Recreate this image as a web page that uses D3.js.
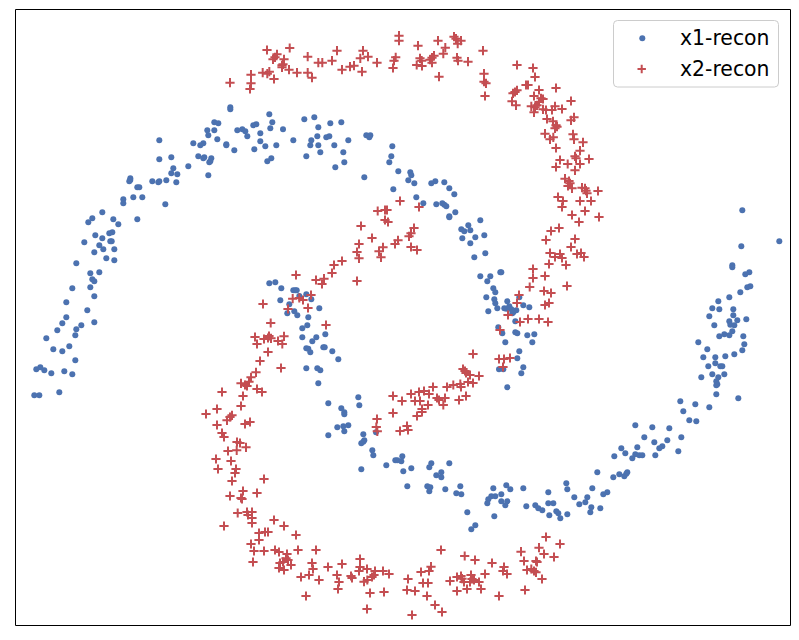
<!DOCTYPE html>
<html>
<head>
<meta charset="utf-8">
<script src="https://cdn.jsdelivr.net/npm/d3@7"></script>
<style>
html,body{margin:0;padding:0;background:#fff;}
svg{display:block;}
text{font-family:"DejaVu Sans";}
</style>
</head>
<body>
<script>
const seriesNames = ["x1-recon", "x2-recon"];
const seriesColors = ["#4C72B0", "#C44E52"];
const xDomain = [15.5, 790.5];
const yDomain = [9.5, 625.5];

const x1Recon = [
[230.3,107.3],[230.3,109.3],[269.3,114.3],[272.3,122.3],[214.3,122.3],[218.3,123.3],[256.3,124.3],[253.3,125.3],[270.3,128.3],[283,129.3],[207.3,130.3],[214.3,130.3],[237.3,130.3],[242.3,129.3],[245.3,131.3],[260.3,133.3],[208.3,135.3],[247.3,136.3],[159.3,140.3],[217.3,139.3],[260.3,141.3],[193.3,143.3],[203.3,143.3],[200.3,145.3],[226.3,144.3],[226.3,145.3],[265.3,146.3],[276.3,145.3],[254.3,149.3],[234.3,150.3],
[198.3,156.3],[204.3,157.3],[203.3,158.3],[211.3,158.3],[171.3,157.3],[159.3,159.3],[271.3,158.3],[267.3,161.3],[210.3,161.3],[209.3,162.3],[188.3,166.3],[173.3,168.3],[171.3,173.3],[177.3,174.3],[208.3,175.3],
[130.3,178.3],[130.3,180],[129.3,181.3],[152.3,181.3],[159.3,181.3],[158.3,182.3],[166.3,180.3],[176.3,182.3],[137.3,187.3],[139.3,187.3],[123.3,199.3],[133.3,197.3],[142.3,197.3],[123.3,203.3],[165.3,204.3],[102.3,212.3],[92.3,218.3],[88.3,222.3],[113.3,219.3],[118.3,224.3],[137.3,219.3],[112.3,232.3],[109.3,233.3],[95.3,235.3],[102.3,238.3],[110.3,241.3],[111.7,241.3],[84.3,242.3],[99.3,245.3],[103.3,249.3],[114.3,249.3],[94.3,252.3],[106.3,258.3],[114.3,260.3],[76.3,263.3],[90.3,273.3],[99.3,272.3],[92.3,279.3],[94.3,281.3],[90.3,287.3],[72.3,288.3],[94.3,296.3],[66.3,302.3],[87.3,310.3],[66.3,317.3],[62.3,323.3],[94.3,322.3],[81.3,325.3],[57.3,330.3],[76.3,329.3],[75.3,335.3],[46.3,338.3],[53.3,349.3],[62.3,351.3],[69.3,346.3],[75.3,360.3],[36.3,369.3],[40.3,367.3],[44.3,370.3],[51.3,373.3],[64.3,371.3],[72.3,374.3],[34.3,395.3],[39.3,395.3],[59.3,392.3],
[304.3,119.3],[314.3,117.3],[318.3,127.3],[330.3,123.3],[341.3,122.3],[293.3,140.3],[311.3,140.3],[317.3,136.3],[326.3,137.3],[329.3,136.3],[348.3,140.3],[310.3,145.3],[318.3,145.3],[334.3,145.3],[320.3,152.3],[343.3,152.3],[306.3,156.3],[344.3,162.3],[335.3,167.3],[366.3,135.3],[370.3,135.3],[369.3,137.3],[392.3,146.3],[391.3,156.3],[389.3,162.3],[398.3,171.3],[410.3,172.3],[411.3,175.3],[408.3,180.3],[414.3,183.3],[364.3,177.3],[431.3,183.3],[435.3,181.3],[444.3,182.3],[449.3,188.3],[454.3,194.3],[393.3,189.3],[416.3,197.3],
[423.3,203.3],[436.3,204.3],[442.3,203.3],[444.3,204.7],[446.3,206.3],[455.3,212.3],[449.3,216.3],[449.3,217.3],[480.3,220.3],[468.3,225.3],[461.3,229.3],[464.3,231.3],[470.3,230.3],[484.3,235.3],[475.3,237.3],[462.3,238.3],[470.3,243.3],[485.3,253.3],[474.3,257.3],
[480.3,276.3],[490.3,276.3],[487.3,281.3],[500.3,272.3],[493.3,288.3],[495.3,292.3],[486.3,297.3],[494.3,299.3],[495.3,303.3],[497.3,308.3],[488.3,311.3],[498.3,327.3],[499,369.3],
[269.3,283.3],[275.3,282.3],[281.3,288.3],[293.3,290.3],[295.3,290.3],[296.7,290.3],[306.3,294.3],[299.3,296],[311.3,299.3],[280.3,300.3],[289.3,304.3],[319.3,308.3],[294.3,311.3],[287.3,313.3],[297.3,315.3],[308.3,317.3],[307.3,325.3],[302.3,328.3],[325.3,334.3],[302.3,337.3],[316.3,337.3],[312.3,341.3],[306.3,348.3],[308.3,348.7],[323.3,347.3],[324.7,347.3],[310.3,352.3],[332.3,351.3],[338.3,359.3],[306.3,368.3],[317.3,368.3],[320.3,370.3],[318.3,383.3],[328.3,403.3],[358.3,397.3],[359.3,405.3],[341.3,408.3],[344.3,412.3],[344.3,414.3],[337.3,427.3],[343.3,426.3],[348.3,425.3],[344.3,431.3],[328.3,435.3],[363.3,434.3],[376,432.3],[364.3,440.3],[363.3,441.7],[361.3,443.3],[372.3,450.3],
[373.3,455.3],[402.3,456.3],[395.3,460.3],[397.3,460.3],[401.3,461.3],[386.3,465.3],[361.3,469.3],[403.3,471.3],[411.3,468.3],[431.3,463.3],[429.3,467.3],[449.3,463.3],[436.3,475.3],[441.3,472.3],[441.3,477.3],[407.3,486.3],[427.3,486.3],[430.3,487.3],[429.3,491.3],[445.3,489.3],[460.3,486.3],[456.3,493.3],[461.3,494.3],[467.3,512.3],[475.3,525.3],[471.3,529.3],
[493.3,488.3],[506.3,485.3],[510.3,489.3],[501.3,494.3],[495.3,496.3],[491.3,496.3],[488.3,499.3],[487.3,503.3],[501.3,501.3],[507.3,501.3],[505.3,505.3],[494.3,516.3],[523.3,488.3],[526.3,506.3],[535.3,505.3],[538.3,508.3],[542.3,510.3],[548.3,492.3],[548.3,503.3],[553.3,503.3],[549.3,515.3],[556.3,511.3],[558.3,513.3],[560.3,518.3],[567.3,514.3],[566.3,483.3],[567.3,489.3],[574.3,497.3],[579.3,504.3],
[501.3,272.3],[507.3,301.3],[519.3,297.3],[504.3,308.3],[506.3,308.7],[509.3,306.3],[511.3,309.3],[516.3,310.3],[513.3,312.3],[512.3,313.3],[523.3,305.3],[529.3,307.3],[515.3,321.3],[502.3,333.3],[515.3,332.3],[517.3,333.3],[527.3,335.3],[534.3,334.3],[505.3,342.3],[532.3,342.3],[519.3,351.3],[517.3,358.3],[523.3,367.3],[503.3,369.3],[521.3,373.3],[507.3,387.3],
[742.3,210.3],[779.3,241.3],[741.3,246.3],[732.3,265.3],[732.3,267.3],[749.3,272.3],[745.3,274.3],[750.3,286.3],[747.3,287.3],[740.3,292.3],[729.3,297.3],[718.3,301.3],[712.3,308.3],[719.3,309.3],[733.3,309.3],[733.3,315.3],[709.3,316.3],[737.3,320.3],[746.3,319.3],[729.3,321.3],[730.3,324.7],[734.3,325.3],[714.3,325.3],[732.3,331.3],[724.3,334.3],[719.3,336.3],[729.3,335.3],[743.3,336.3],[698.3,342.3],[744.3,344.3],[707.3,349.3],[742.3,350.3],[734.3,354.3],[725.3,356.3],[715.3,357.3],[703.3,357.3],[715.3,363.3],[720.3,366.3],[722.3,366.3],[708.3,366.3],[724.3,374.3],[712.3,374.3],[701.3,377.3],[718.3,377.3],[716.3,381.3],[717.3,384.3],[716.3,385.3],[716.3,394.3],[738.3,398.3],[680.3,401.3],[695.3,404.3],[709.3,407.3],[683.3,411.3],[689.3,420.3],[696.3,421.3],[635.3,425.3],[652.3,427.3],[669.3,428.3],[644.3,437.3],[681.3,437.3],[667.3,440.3],[654.3,442.3],[662.3,446.3],[659.3,448.3],[637.3,447.3],[621.3,448.3],[678.3,451.3],[625.3,453.3],[635.3,454.3],[639.3,455.3],[642.3,455.3],[655.3,455.3],[614.3,456.3],[632.3,458.3],[597.3,472.3],[627.3,472.3],[626.3,473.7],[624.3,476.3],[619.3,474.3],[613.3,477.3],[592.3,488.3],[607.3,492.3],[603.3,494.3],[587.3,497.3],[585.3,502.3],[591.3,507.3],[600.3,508.3],[590.3,512.3]
];

const x2Recon = [
[230,82.7],[250,89],[251,83.3],[251,74.7],[262.7,72.7],[267.3,73.7],[269.3,71.7],[274,79],[267,50],[289.7,48],[277,54.3],[275,57.3],[273,59.3],[284,59.3],[282,65.3],[283,64.3],[282,67.3],[289,69.7],[297,72.7],[307.7,56.7],[307.7,72.7],[312,77.7],[318.3,62.7],[322.3,62.7],[332,60.7],[337,50.7],[342,69.7],[350,66.7],[354,65.7],[363,50.7],[360.3,58.3],[368,56.7],[362,71.7],[377,62.7],[399,35.7],[399,40.7],[395.7,57.3],[394,60.7],[393,68],[418,45.7],[420,58.3],[421.7,60.7],[416.7,65],[422,66],[438,40.7],[445.3,47.7],[443.3,53.7],[434,55.7],[432,57.7],[430,59.7],[432,62.7],[439,76.7],[454,36.7],[456,38.7],[461,40.7],[457.7,43.7],[457,57.7],[458,60.7],[468,61.7],[483,50.7],[484,73.7],[484,81.7],[486,83.3],[485,96],
[517,65],[533,68],[535,77],[526,85],[528,85],[539,90],[556,88],[517,90.3],[515,92],[513,93.3],[512,101.3],[516,105.3],[534,96],[543,99],[541,98.3],[539,102],[571,101],[531.3,106.3],[535,107.3],[537,105.3],[534,112.3],[543,109.3],[546,110],[552,110],[555,106.3],[562,109],[574,117.3],[571,120.3],[547,119],[553,121.3],[556,125.3],[557,126.7],[555,128.3],[545,133.7],[553.3,137.3],[550,139.3],[573,134.3],[574,139.3],[583,142.3],[556,148],[580,150.7],[575,156.3],[576,158.3],[589,159],[560,160],[567.7,164],[580,164],[556,167],[575,170.3],[565,178.7],[569,181],[570,183.3],[568,186],[572,188.3],[582,187.7],[585,188.3],[586,190.7],[587,193.3],[598,191],[558,197],[563,201],[580,201],[591,201],[562,207],[585,211],[572,215],[599,217],[579,222],[559,228],[551,231],[575,239],[546,240],[571,247],[550,253],[560,254],[555,257],[562,258],[577,254],[581,253],[584,257],
[549,264],[566,265],[533,269],[533,278],[545,276],[529.7,287],[544,291],[551,293],[567,286],[519,295],[517,303],[545,305],[549,303],[508,315],[528,319],[520,322],[539,319],[548,322],[500,330],[499,359],[504,359],[510,358],[503,367],
[400,201],[419,207],[377.7,211],[385,210],[387,210],[385,220],[388,222],[361,226],[414,228],[411,233.3],[409,236.3],[372,238],[359,244],[398,240.3],[395,244],[411,247],[417,250],[383,247.3],[379,251.3],[357,252],[381,257.3],[359,258.3],[342,261],[334,265],[332,273],[357,281],[296,275],[316,280],[324,278.7],[322,284],[311,295],[292.7,298.7],[299.3,298],[303,300],[263,304],[288,309],[308,308],[326,325],[270.7,323],[255,337],[269,336],[268,338],[264,339],[271,338.3],[284,336.3],[278,341],[257,344],[282.3,344],[268,352],[260,361],[281,368],[256,372.3],[251,377.3],[249,381.7],[241,383.3],[245,385],[247,386],[257,389],[262,392],[222,392],[243,396],[241,406],[217,409],[206,414],[232,415.3],[230,417],[227,420.3],[217,425],[245,424],[250,422],[222,433],[224,437],[237,442],[240,443],[246,447.3],[228,451],
[473,354],[463,369],[465,371],[466,373],[470,375],[479,376],[473,383],[468,382],[460.3,384],[453.3,385],[461,387],[447,387],[433,387],[419,392],[424,391],[429,394],[411,394],[393,396],[402,401],[415,401],[420,401],[437,398],[439,400],[445,398],[459,400],[466,396],[428,405],[443.3,405],[422,409],[422,412],[417,416],[393,413],[377,419],[376.3,427],[377.3,431.3],[407,426],[400,431],[408,430],
[236.7,450.3],[216,459],[231,461],[218,469],[236,469],[235,473],[264,479],[232,481],[243,491],[257,493],[230,496],[241,498],[242,499],[237.7,513],[247,512],[248,515],[252,512],[252,518],[252,523],[224,526],[274,520],[284,526],[259,533],[265,532],[268,532],[296,535],[259,540],[251,544],[254,551],[264,551],[275,550],[279,552],[298,550],[316,550],[287,554],[286,558.3],[288,560],[283,562],[280,563],[253,562],[291,565],[279,568],[284,570],[312,563],[313,569],[328,567],[342,564],[360,559],[360,567],[359,571],[367,569],[301,577],[309,575],[319,580],[337,575],[339,582],[338,589],[351,576],[352,578],[375,571],[374,575],[372,577],[367.3,580],[364,581.7],[383,571],[389,574],[306,596],[370,593],[384,592],[367,609],[408,579],[407,590],[415,591],[427,596],[421,572],[429,571],[431,566.7],[423,583],[428,583],[435,605],[442,612],[412,615],[441,550],
[464.7,556],[475,560],[492,563],[504,567],[546,537],[560,544],[539,547.7],[521,551.7],[544,554],[554,557],[524,561],[536,561],[537,562],
[450,581],[457,577],[461,576],[462,578.7],[464,582],[470,582],[471,575],[472,579],[474,580],[479,582],[485,574],[467,589],[457,591],[481,589],[499,596],[503,571],[507,574],[527,570],[531.3,569],[534,571],[536,572.3],[542,579],[525,590]
];

const W = 799, H = 640;
const svg = d3.select("body").append("svg").attr("width", W).attr("height", H);
const x = d3.scaleLinear().domain(xDomain).range([15.5, 790.5]);
const y = d3.scaleLinear().domain(yDomain).range([9.5, 625.5]);

const plusPath = (s) => `M${-s},0H${s}M0,${-s}V${s}`;

svg.append("g").selectAll("circle").data(x1Recon).join("circle")
  .attr("cx", d => x(d[0])).attr("cy", d => y(d[1])).attr("r", 3)
  .attr("fill", seriesColors[0]);

svg.append("g").selectAll("path").data(x2Recon).join("path")
  .attr("transform", d => `translate(${x(d[0])},${y(d[1])})`)
  .attr("d", plusPath(4.6))
  .attr("fill", "none").attr("stroke", seriesColors[1]).attr("stroke-width", 2);

// frame: four tickless axes
const frame = [
  [d3.axisBottom(x), 0, y.range()[1]],
  [d3.axisTop(x), 0, y.range()[0]],
  [d3.axisLeft(y), x.range()[0], 0],
  [d3.axisRight(y), x.range()[1], 0]
];
frame.forEach(([ax, tx, ty]) => {
  const g = svg.append("g").attr("transform", `translate(${tx},${ty})`)
    .call(ax.offset(0).tickValues([]).tickSizeOuter(0));
  g.select(".domain").attr("stroke", "#000").attr("stroke-width", 1);
});

// legend
const lg = svg.append("g");
lg.append("rect").attr("x", 613.5).attr("y", 20.5).attr("width", 165).attr("height", 66.5)
  .attr("rx", 4).attr("fill", "#fff").attr("fill-opacity", 0.8)
  .attr("stroke", "#cccccc").attr("stroke-width", 1);
lg.append("circle").attr("cx", 642.3).attr("cy", 38.3).attr("r", 3).attr("fill", seriesColors[0]);
lg.append("path").attr("transform", "translate(641.7,69)").attr("d", plusPath(4.2))
  .attr("fill", "none").attr("stroke", seriesColors[1]).attr("stroke-width", 2);
lg.selectAll("text").data(seriesNames).join("text")
  .attr("x", 680).attr("y", (d, i) => 45.3 + i * 30.7)
  .attr("font-size", 20.4).attr("fill", "#000").text(d => d);
</script>
</body>
</html>
